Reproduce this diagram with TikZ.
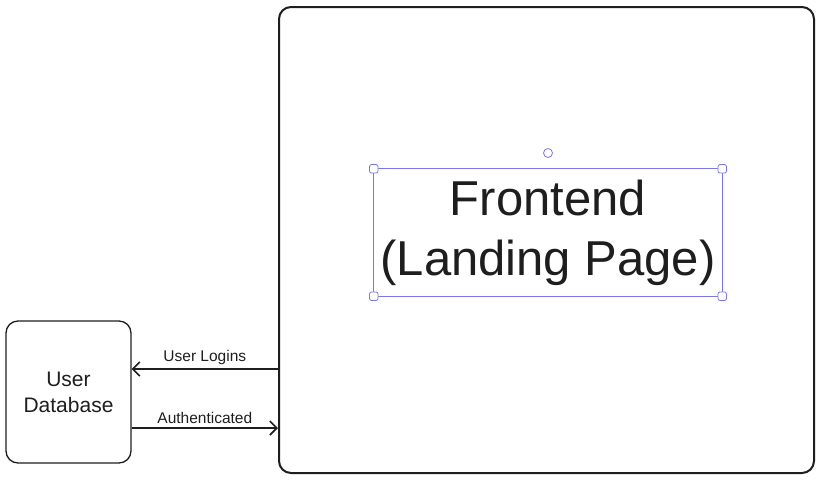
\documentclass[tikz,border=0pt]{standalone}
\usepackage{fontspec}
\setmainfont{Liberation Sans}
\usetikzlibrary{arrows.meta}
\definecolor{inkc}{RGB}{30,30,30}
\definecolor{selc}{RGB}{122,120,230}
\begin{document}
\begin{tikzpicture}[x=1pt,y=-1pt,
  box/.style={draw=inkc,rounded corners=12pt,inner sep=0pt},
  flow/.style={draw=inkc,line width=1.8pt,-{Straight Barb[length=7pt,width=14pt,line width=1.6pt]}},
  lbl/.style={font=\fontsize{15.5}{18}\selectfont,text=inkc},
  handle/.style={draw=selc,fill=white,line width=0.8pt,rounded corners=2pt,minimum size=8.5pt,inner sep=0pt}]
\useasboundingbox (0,0) rectangle (821,479);
\node[box,line width=2pt,minimum width=535pt,minimum height=466pt] (frontend) at (546.5,240) {};
\node[box,line width=1.3pt,minimum width=125pt,minimum height=142pt,align=center,
  font=\fontsize{21}{26}\selectfont,text=inkc] (userdb) at (68.5,392) {User\\Database};
\node[minimum width=348pt,minimum height=127pt,inner sep=0pt,align=center,
  font=\fontsize{49}{60}\selectfont,text=inkc] (title) at (548,232.5) {Frontend\\(Landing Page)};
\draw[selc,line width=0.8pt] (title.north west) rectangle (title.south east);
\node[handle] (hnw) at (title.north west) {};
\node[handle] (hne) at (title.north east) {};
\node[handle] (hsw) at (title.south west) {};
\node[handle] (hse) at (title.south east) {};
\node[draw=selc,fill=white,line width=0.8pt,circle,minimum size=9pt,inner sep=0pt] (rot) at (548,153) {};
\coordinate (loginy) at (0,369);
\coordinate (authy) at (0,428);
\draw[flow] (frontend.west |- loginy) -- node[lbl,above=0pt] (loginlbl) {User Logins} (userdb.east |- loginy);
\draw[flow] (userdb.east |- authy) -- node[lbl,above=0pt] (authlbl) {Authenticated} (frontend.west |- authy);
\end{tikzpicture}
\end{document}
